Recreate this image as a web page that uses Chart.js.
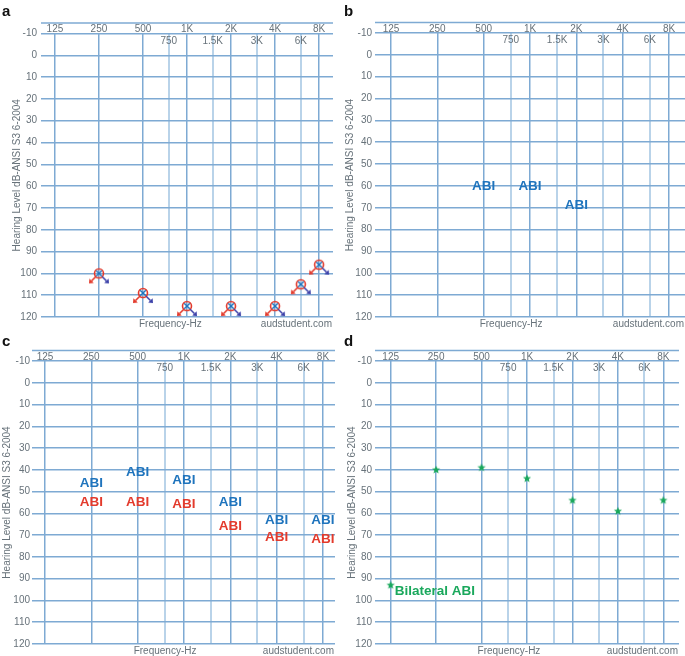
<!DOCTYPE html>
<html>
<head>
<meta charset="utf-8">
<script src="https://cdn.jsdelivr.net/npm/chart.js@4.4.1/dist/chart.umd.min.js"></script>
<style>
html, body { margin: 0; padding: 0; background: #fff; }
#wrap { position: relative; width: 685px; height: 656px; overflow: hidden; }
.panel { position: absolute; }
.panel canvas { display: block; }
.tag { position: absolute; font: bold 15px "Liberation Sans", Arial, sans-serif; color: #111; line-height: 1; }
</style>
</head>
<body>
<div id="wrap">
  <div class="panel" style="left:0;top:0"><canvas id="chartA" width="340" height="330"></canvas></div>
  <div class="panel" style="left:340px;top:0"><canvas id="chartB" width="345" height="330"></canvas></div>
  <div class="panel" style="left:0;top:330px"><canvas id="chartC" width="340" height="326"></canvas></div>
  <div class="panel" style="left:340px;top:330px"><canvas id="chartD" width="345" height="326"></canvas></div>
  <div class="tag" style="left:2px;top:3px">a</div>
  <div class="tag" style="left:344px;top:3px">b</div>
  <div class="tag" style="left:2px;top:333px">c</div>
  <div class="tag" style="left:344px;top:333px">d</div>
</div>
<script>
// audiogram frequency grid
const octaveFreqs = [125, 250, 500, 1000, 2000, 4000, 8000];
const octaveLabels = ['125', '250', '500', '1K', '2K', '4K', '8K'];
const midFreqs = [750, 1500, 3000, 6000];
const midLabels = ['750', '1.5K', '3K', '6K'];
const dbTicks = [-10, 0, 10, 20, 30, 40, 50, 60, 70, 80, 90, 100, 110, 120];

// panel a - unaided, no response (O right / X left)
const freqsA = [250, 500, 1000, 2000, 4000, 6000, 8000];
const rightA = [100, 109, 115, 115, 115, 105, 96];
const leftA = [100, 109, 115, 115, 115, 105, 96];

// panel b - ABI
const freqsB = [500, 1000, 2000];
const abiB = [60, 60, 69];

// panel c - ABI blue / red
const freqsC = [250, 500, 1000, 2000, 4000, 8000];
const abiBlueC = [46, 41, 45, 55, 63, 63];
const abiRedC = [55, 55, 56, 66, 71, 72];

// panel d - bilateral ABI
const freqsD = [250, 500, 1000, 2000, 4000, 8000];
const bilateralD = [40, 39, 44, 54, 59, 54];
const keyFreqD = [125];
const keyDbD = [93];

const GRID = '#7eaad3';
const GRID_MID = '#b9d3e9';
const TEXT = '#67727a';
const BLUE = '#1f74bd';
const RED = '#e33a2c';
const GREEN = '#1aa85c';
const FONT = '"Liberation Sans", Arial, Helvetica, sans-serif';

const oct = f => Math.log2(f / 125);
const pts = (freqs, vals) => freqs.map((f, i) => ({ x: oct(f), y: vals[i] }));

function makeMarker(size, draw) {
    const c = document.createElement('canvas');
    c.width = size;
    c.height = size;
    draw(c.getContext('2d'), size / 2);
    return c;
}

// red circle with arrow down-left (no response)
const rightMarker = makeMarker(26, (g, c) => {
    g.strokeStyle = RED;
    g.fillStyle = RED;
    g.lineWidth = 1.6;
    g.beginPath(); g.arc(c, c, 4.5, 0, Math.PI * 2); g.stroke();
    g.beginPath(); g.moveTo(c - 3.2, c + 3.2); g.lineTo(c - 7.5, c + 7.5); g.stroke();
    g.beginPath(); g.moveTo(c - 10, c + 10); g.lineTo(c - 9.6, c + 5.2); g.lineTo(c - 5.2, c + 9.6); g.closePath(); g.fill();
});

// blue X with arrow down-right (no response)
const leftMarker = makeMarker(26, (g, c) => {
    g.strokeStyle = BLUE;
    g.fillStyle = '#3a3fa8';
    g.lineWidth = 1.5;
    g.beginPath();
    g.moveTo(c - 2.8, c - 2.8); g.lineTo(c + 2.8, c + 2.8);
    g.moveTo(c + 2.8, c - 2.8); g.lineTo(c - 2.8, c + 2.8);
    g.stroke();
    g.strokeStyle = '#3a3fa8';
    g.beginPath(); g.moveTo(c + 3.2, c + 3.2); g.lineTo(c + 7.5, c + 7.5); g.stroke();
    g.beginPath(); g.moveTo(c + 10, c + 10); g.lineTo(c + 9.6, c + 5.2); g.lineTo(c + 5.2, c + 9.6); g.closePath(); g.fill();
});

// filled five point star
const starMarker = makeMarker(12, (g, c) => {
    g.fillStyle = GREEN;
    g.beginPath();
    for (let i = 0; i < 10; i++) {
        const r = i % 2 === 0 ? 4.3 : 1.9;
        const a = -Math.PI / 2 + i * Math.PI / 5;
        g.lineTo(c + r * Math.cos(a), c + r * Math.sin(a));
    }
    g.closePath();
    g.fill();
});

// frequency labels, footer texts and text marks
const audiogramDecor = {
    id: 'audiogramDecor',
    afterDatasetsDraw(chart) {
        const { ctx, chartArea, scales } = chart;
        const x = scales.x;
        ctx.save();
        ctx.strokeStyle = GRID;
        ctx.lineWidth = 1.5;
        ctx.beginPath();
        ctx.moveTo(chartArea.left, chartArea.top - 10.5);
        ctx.lineTo(chartArea.right, chartArea.top - 10.5);
        ctx.stroke();

        ctx.fillStyle = TEXT;
        ctx.font = '10px ' + FONT;
        ctx.textAlign = 'center';
        ctx.textBaseline = 'alphabetic';
        octaveFreqs.forEach((f, i) => {
            ctx.fillText(octaveLabels[i], x.getPixelForValue(oct(f)), chartArea.top - 1.5);
        });
        midFreqs.forEach((f, i) => {
            ctx.fillText(midLabels[i], x.getPixelForValue(oct(f)), chartArea.top + 10);
        });

        ctx.textAlign = 'left';
        ctx.fillText('Frequency-Hz', x.getPixelForValue(oct(500)) - 4, chartArea.bottom + 10);
        ctx.textAlign = 'right';
        ctx.fillText('audstudent.com', chartArea.right - 1, chartArea.bottom + 10);

        chart.data.datasets.forEach((ds, i) => {
            if (!ds.textMark && !ds.keyText) return;
            const meta = chart.getDatasetMeta(i);
            ctx.font = 'bold 13.5px ' + FONT;
            ctx.fillStyle = ds.textColor;
            ctx.textBaseline = 'middle';
            meta.data.forEach(el => {
                if (ds.textMark) {
                    ctx.textAlign = 'center';
                    ctx.fillText(ds.textMark, el.x, el.y);
                } else {
                    ctx.textAlign = 'left';
                    ctx.fillText(ds.keyText, el.x + 4, el.y + 6);
                }
            });
        });
        ctx.restore();
    }
};

function makeAudiogram(id, datasets, lay) {
    const canvas = document.getElementById(id);
    return new Chart(canvas, {
        type: 'scatter',
        data: { datasets: datasets },
        options: {
            responsive: false,
            animation: false,
            devicePixelRatio: 1,
            layout: {
                padding: {
                    left: 0,
                    top: lay.top,
                    right: canvas.width - lay.right,
                    bottom: canvas.height - lay.bottom
                }
            },
            plugins: {
                legend: { display: false },
                tooltip: { enabled: false }
            },
            scales: {
                x: {
                    type: 'linear',
                    min: lay.xMin,
                    max: lay.xMax,
                    afterBuildTicks: s => {
                        s.ticks = octaveFreqs.concat(midFreqs).map(f => ({ value: oct(f) }));
                    },
                    afterFit: s => { s.height = 0; },
                    ticks: { display: false },
                    border: { display: false },
                    grid: {
                        drawTicks: false,
                        lineWidth: ctx => Number.isInteger(Math.round(ctx.tick.value * 1000) / 1000) ? 1.5 : 2,
                        color: ctx => Number.isInteger(Math.round(ctx.tick.value * 1000) / 1000) ? GRID : GRID_MID
                    }
                },
                y: {
                    type: 'linear',
                    reverse: true,
                    min: -10,
                    max: 120,
                    afterBuildTicks: s => {
                        s.ticks = dbTicks.map(v => ({ value: v }));
                    },
                    afterFit: s => { s.width = lay.left; },
                    border: { display: false },
                    grid: { drawTicks: false, color: GRID, lineWidth: 1.5 },
                    ticks: {
                        color: TEXT,
                        padding: lay.tickPad,
                        font: { size: 10, family: FONT }
                    },
                    title: {
                        display: true,
                        text: 'Hearing Level dB-ANSI S3 6-2004',
                        color: TEXT,
                        font: { size: 10, family: FONT },
                        padding: { top: lay.titlePad, bottom: 0 }
                    }
                }
            }
        },
        plugins: [audiogramDecor]
    });
}

makeAudiogram('chartA', [
    { label: 'Left', data: pts(freqsA, leftA), pointStyle: leftMarker, pointRadius: 6 },
    { label: 'Right', data: pts(freqsA, rightA), pointStyle: rightMarker, pointRadius: 6 }
], { left: 41, right: 335, top: 33.5, bottom: 317, xMin: -0.316, xMax: 6.316, tickPad: 4, titlePad: 11 });

makeAudiogram('chartB', [
    { label: 'ABI', data: pts(freqsB, abiB), pointRadius: 0, textMark: 'ABI', textColor: BLUE }
], { left: 35, right: 345, top: 33, bottom: 317, xMin: -0.345, xMax: 6.345, tickPad: 3, titlePad: 4 });

makeAudiogram('chartC', [
    { label: 'ABI blue', data: pts(freqsC, abiBlueC), pointRadius: 0, textMark: 'ABI', textColor: BLUE },
    { label: 'ABI red', data: pts(freqsC, abiRedC), pointRadius: 0, textMark: 'ABI', textColor: RED }
], { left: 32, right: 335, top: 31, bottom: 314, xMin: -0.28, xMax: 6.26, tickPad: 2, titlePad: 1 });

makeAudiogram('chartD', [
    { label: 'Bilateral ABI', data: pts(freqsD, bilateralD), pointStyle: starMarker, pointRadius: 5 },
    { label: 'Key', data: pts(keyFreqD, keyDbD), pointStyle: starMarker, pointRadius: 5, keyText: 'Bilateral ABI', textColor: GREEN }
], { left: 35, right: 345, top: 31, bottom: 314, xMin: -0.345, xMax: 6.345, tickPad: 3, titlePad: 6 });
</script>
</body>
</html>
